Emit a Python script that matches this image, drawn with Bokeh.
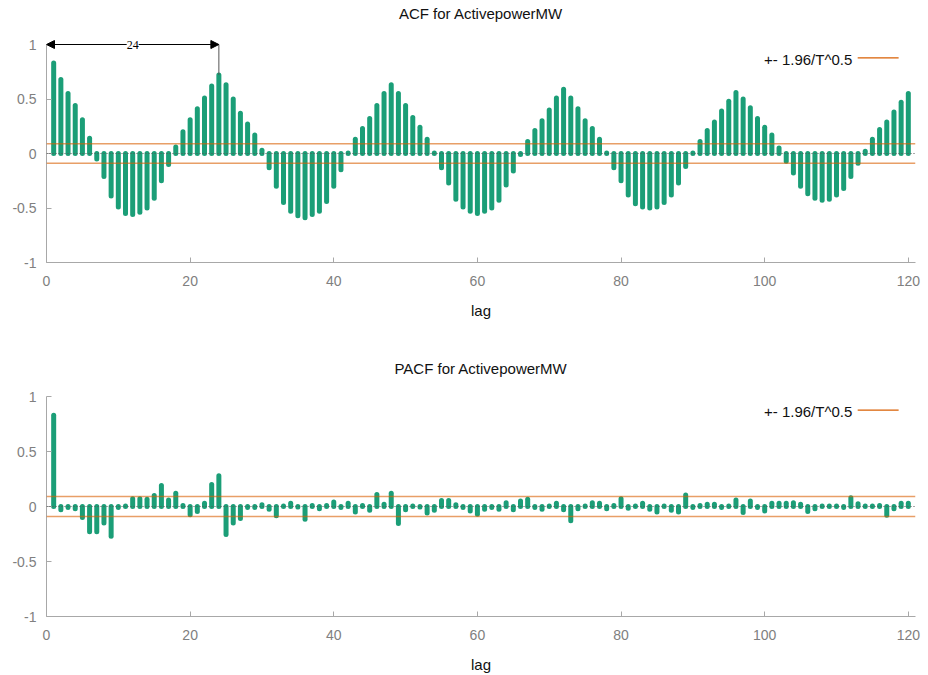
from bokeh.plotting import figure
from bokeh.layouts import column
from bokeh.models import Span, Arrow, NormalHead, Label, FixedTicker, CustomJSTickFormatter
from bokeh.embed import file_html
from bokeh.resources import INLINE

# ---- data ----
lags = list(range(1, 121))
acf_values = [
    0.83, 0.68, 0.55, 0.44, 0.31, 0.14, -0.05, -0.21, -0.39, -0.49,
    -0.55, -0.56, -0.54, -0.50, -0.41, -0.25, -0.10, 0.06, 0.20, 0.31,
    0.41, 0.51, 0.62, 0.72, 0.63, 0.50, 0.37, 0.27, 0.17, 0.03,
    -0.13, -0.30, -0.45, -0.53, -0.57, -0.59, -0.56, -0.53, -0.44, -0.30,
    -0.15, 0.005, 0.13, 0.23, 0.32, 0.44, 0.55, 0.63, 0.55, 0.44,
    0.33, 0.24, 0.13, 0.005, -0.13, -0.27, -0.42, -0.49, -0.53, -0.55,
    -0.53, -0.50, -0.43, -0.29, -0.16, -0.01, 0.11, 0.21, 0.30, 0.40,
    0.51, 0.59, 0.51, 0.41, 0.30, 0.23, 0.13, 0.005, -0.13, -0.25,
    -0.38, -0.46, -0.49, -0.50, -0.49, -0.45, -0.38, -0.27, -0.12, 0.005,
    0.11, 0.21, 0.29, 0.39, 0.48, 0.56, 0.50, 0.42, 0.32, 0.24,
    0.17, 0.05, -0.07, -0.18, -0.30, -0.37, -0.41, -0.43, -0.42, -0.38,
    -0.32, -0.21, -0.09, 0.02, 0.13, 0.22, 0.29, 0.38, 0.47, 0.55,
]
pacf_values = [
    0.83, -0.03, -0.01, -0.02, -0.10, -0.23, -0.23, -0.15, -0.27, -0.01,
    0.005, 0.07, 0.07, 0.065, 0.10, 0.19, 0.06, 0.12, 0.01, -0.075,
    -0.045, 0.03, 0.20, 0.28, -0.255, -0.15, -0.11, -0.01, -0.01, 0.015,
    -0.025, -0.085, 0.005, 0.03, -0.005, -0.115, 0.01, -0.02, 0.01, 0.04,
    -0.01, 0.03, -0.05, 0.01, -0.035, 0.11, 0.02, 0.12, -0.155, -0.03,
    0.005, -0.005, -0.06, -0.035, 0.055, 0.055, 0.015, -0.01, -0.04, -0.07,
    -0.025, -0.01, -0.025, 0.035, -0.03, 0.05, 0.065, -0.01, -0.025, 0.005,
    0.03, -0.03, -0.13, -0.02, 0.005, 0.035, 0.03, -0.02, 0.01, 0.07,
    -0.015, 0.005, 0.03, -0.025, -0.05, 0.005, -0.035, -0.05, 0.105, -0.01,
    0.01, 0.02, 0.02, -0.01, 0.005, 0.06, -0.055, 0.05, -0.01, -0.04,
    0.03, 0.03, 0.03, 0.035, 0.02, -0.045, -0.02, 0.005, 0.005, 0.005,
    -0.01, 0.08, 0.025, 0.005, 0.005, 0.01, -0.08, -0.02, 0.03, 0.03,
]
conf_bound = 0.09
season_lag = 24
x_ticks = [0, 20, 40, 60, 80, 100, 120]
y_ticks = [-1, -0.5, 0, 0.5, 1]
legend_text = "+- 1.96/T^0.5"

GREEN = "#1b9e77"
ORANGE = "#d95f02"
FONT = "Liberation Sans"


def make_panel(title, vals, height, bottom, y_top, title_y, annotate=False):
    p = figure(width=928, height=height, x_range=(0, 121), y_range=(-1, y_top),
               output_backend="svg", toolbar_location=None, title=None,
               min_border_left=46, min_border_right=13,
               min_border_top=0, min_border_bottom=bottom)
    p.outline_line_color = None
    p.xgrid.visible = False
    p.ygrid.visible = False
    p.background_fill_color = "white"
    p.border_fill_color = "white"

    for ax in (p.xaxis[0], p.yaxis[0]):
        ax.axis_line_color = "#a8a8a8"
        ax.major_tick_line_color = "#a8a8a8"
        ax.major_tick_in = 5
        ax.major_tick_out = 0
        ax.minor_tick_line_color = None
        ax.major_label_text_color = "#808080"
        ax.major_label_text_font = FONT
        ax.major_label_text_font_size = "14px"
    p.yaxis.bounds = (-1, 1)
    p.xaxis.ticker = FixedTicker(ticks=x_ticks)
    p.yaxis.ticker = FixedTicker(ticks=y_ticks)
    p.yaxis.formatter = CustomJSTickFormatter(code="return tick.toString();")
    p.xaxis.major_label_standoff = 13
    p.yaxis.major_label_standoff = 10
    p.xaxis.axis_label = "lag"
    p.xaxis.axis_label_text_font = FONT
    p.xaxis.axis_label_text_font_size = "15px"
    p.xaxis.axis_label_text_font_style = "normal"
    p.xaxis.axis_label_text_color = "#111111"
    p.xaxis.axis_label_standoff = 13

    # title (inside the extended frame, above y = 1)
    p.add_layout(Label(x=60.5, y=title_y, text=title, text_align="center",
                       text_baseline="middle", text_font=FONT,
                       text_font_size="15px", text_color="#111111"))

    # bars
    p.segment(x0=lags, y0=[0] * len(lags), x1=lags, y1=vals,
              line_color=GREEN, line_width=5, line_cap="round")

    # zero line and bounds
    p.add_layout(Span(location=0, dimension="width", line_color="#555555",
                      line_dash="1 2", line_width=1))
    for b in (conf_bound, -conf_bound):
        p.add_layout(Span(location=b, dimension="width", line_color=ORANGE,
                          line_alpha=0.6, line_width=1.5))

    # legend (gnuplot style: text then line sample)
    p.add_layout(Label(x=112.2, y=0.865, text=legend_text, text_align="right",
                       text_baseline="middle", text_font=FONT,
                       text_font_size="15px", text_color="#111111"))
    p.segment(x0=[112.95], y0=[0.877], x1=[118.65], y1=[0.877],
              line_color=ORANGE, line_width=1.2)

    if annotate:
        p.segment(x0=[season_lag], y0=[1], x1=[season_lag], y1=[vals[season_lag - 1]],
                  line_color="#555555", line_width=1)
        p.add_layout(Arrow(x_start=0, y_start=1, x_end=season_lag, y_end=1,
                           line_color="black", line_width=1,
                           start=NormalHead(size=8, fill_color="black", line_color="black"),
                           end=NormalHead(size=8, fill_color="black", line_color="black")))
        p.add_layout(Label(x=season_lag / 2, y=1, text=str(season_lag),
                           text_align="center", text_baseline="middle",
                           text_font="Liberation Serif", text_font_size="12px",
                           text_color="black", background_fill_color="white"))
    return p


p1 = make_panel("ACF for ActivepowerMW", acf_values, 353, 91, 1.4037, 1.284, annotate=True)
p2 = make_panel("PACF for ActivepowerMW", pacf_values, 322, 59, 1.391, 1.2545)

layout = column(p1, p2, spacing=0)
open("out.html", "w").write(file_html(layout, INLINE))
